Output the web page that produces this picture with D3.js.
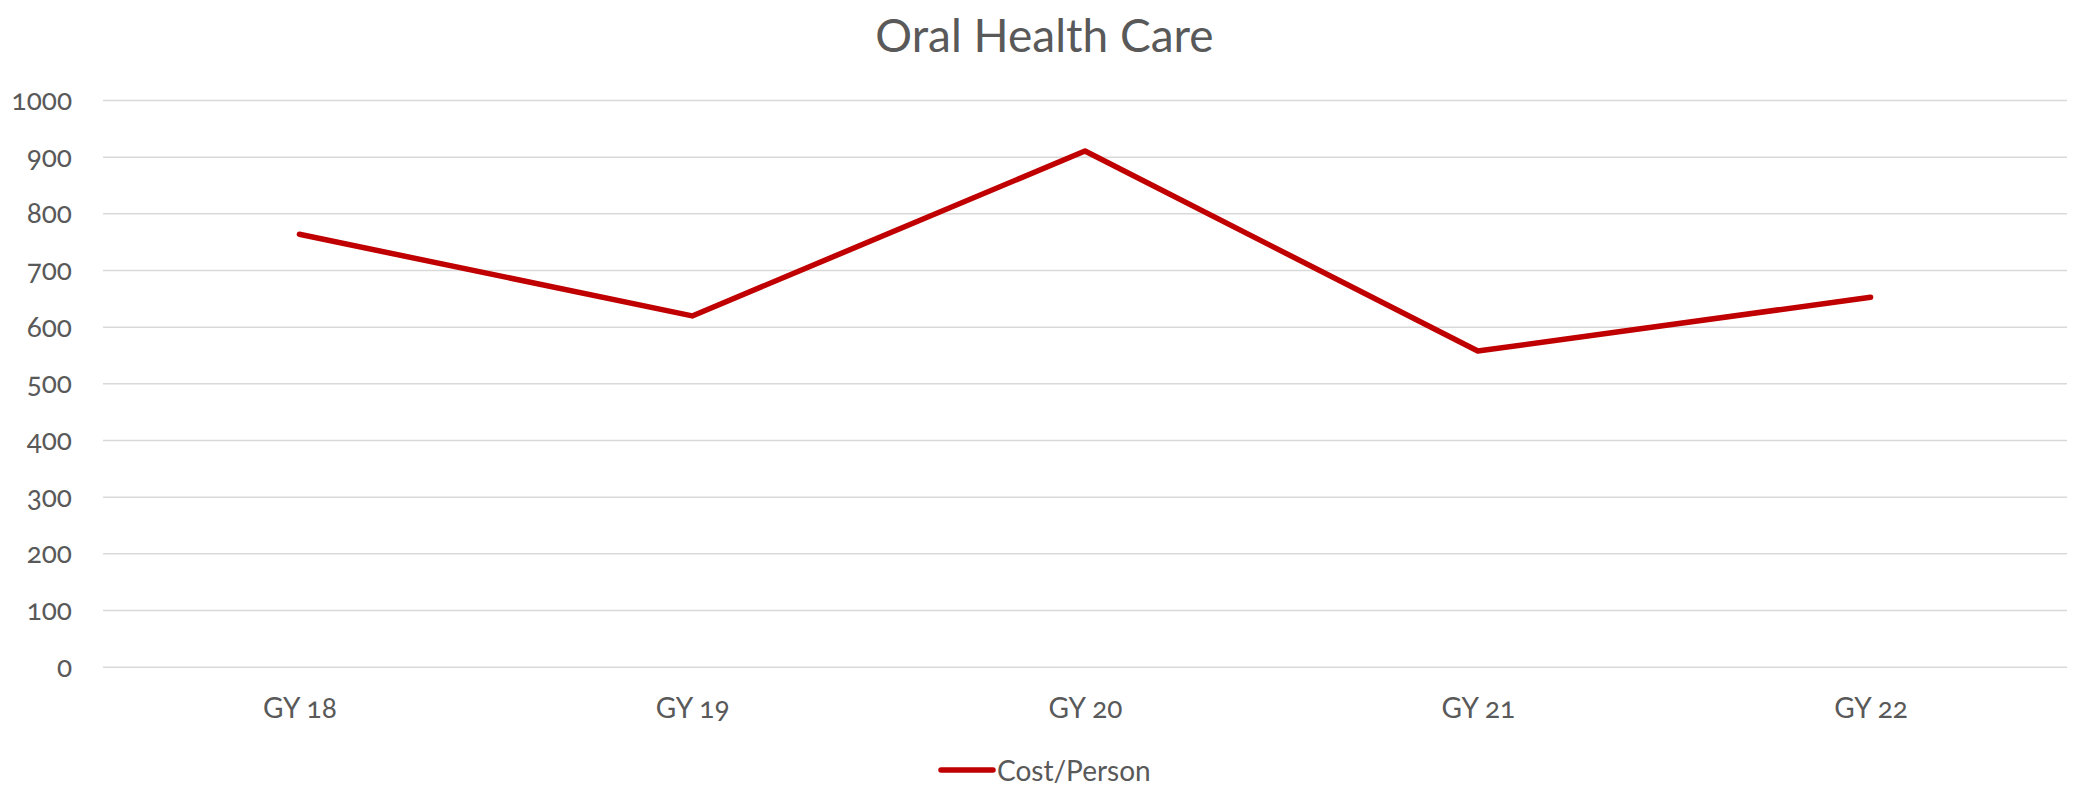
<!DOCTYPE html>
<html>
<head>
<meta charset="utf-8">
<script src="https://cdn.jsdelivr.net/npm/d3@7"></script>
<style>
  html, body { margin: 0; padding: 0; background: #ffffff; }
  svg { display: block; }
  text { font-family: Lato, "Open Sans", sans-serif; fill: #595959; font-variant-numeric: oldstyle-nums; font-feature-settings: "onum"; }
</style>
</head>
<body>
<svg id="chart" width="2075" height="793"></svg>
<script>
// Fiscal years along the x axis
const categories = ["GY 18", "GY 19", "GY 20", "GY 21", "GY 22"];
// Oral health care cost per person for each year
const costPerPerson = [763, 619, 910, 557, 652];
// Value axis ticks
const yTicks = [0, 100, 200, 300, 400, 500, 600, 700, 800, 900, 1000];
const seriesName = "Cost/Person";
const chartTitle = "Oral Health Care";

const W = 2075, H = 793;
const plot = { left: 103, right: 2067, top: 100, bottom: 666.7 };
const lineColor = "#C00000";

const svg = d3.select("#chart");

const x = d3.scalePoint()
  .domain(categories)
  .range([plot.left, plot.right])
  .padding(0.5);

const y = d3.scaleLinear()
  .domain([0, 1000])
  .range([plot.bottom, plot.top]);

// Title
svg.append("text")
  .attr("x", W / 2 + 7)
  .attr("y", 52)
  .attr("text-anchor", "middle")
  .style("font-size", "46px")
  .text(chartTitle);

// Horizontal gridlines with value labels
const yAxis = d3.axisLeft(y)
  .tickValues(yTicks)
  .tickSize(-(plot.right - plot.left))
  .tickPadding(31)
  .tickFormat(d3.format("d"));

const gy = svg.append("g")
  .attr("transform", `translate(${plot.left},0)`)
  .call(yAxis);
gy.select(".domain").remove();
gy.selectAll(".tick line")
  .attr("stroke", "#d9d9d9")
  .attr("stroke-width", 1.5);
gy.selectAll(".tick text")
  .attr("dy", "0.34em")
  .style("font-size", "28px")
  .style("fill", "#595959");

// Category labels
const xAxis = d3.axisBottom(x).tickSize(0).tickPadding(0);
const gx = svg.append("g")
  .attr("transform", `translate(0,${plot.bottom})`)
  .call(xAxis);
gx.select(".domain").remove();
gx.selectAll(".tick text")
  .attr("y", 51)
  .attr("dy", 0)
  .style("font-size", "28px")
  .style("fill", "#595959");

// Series line
const line = d3.line()
  .x((d, i) => x(categories[i]))
  .y(d => y(d));

svg.append("path")
  .datum(costPerPerson)
  .attr("d", line)
  .attr("fill", "none")
  .attr("stroke", lineColor)
  .attr("stroke-width", 5.5)
  .attr("stroke-linejoin", "round")
  .attr("stroke-linecap", "round");

// Legend
const legend = svg.append("g").attr("transform", "translate(941,770)");
legend.append("line")
  .attr("x1", 0).attr("x2", 52)
  .attr("y1", 0).attr("y2", 0)
  .attr("stroke", lineColor)
  .attr("stroke-width", 5.5)
  .attr("stroke-linecap", "round");
legend.append("text")
  .attr("x", 56)
  .attr("y", 11)
  .style("font-size", "28px")
  .text(seriesName);
</script>
</body>
</html>
